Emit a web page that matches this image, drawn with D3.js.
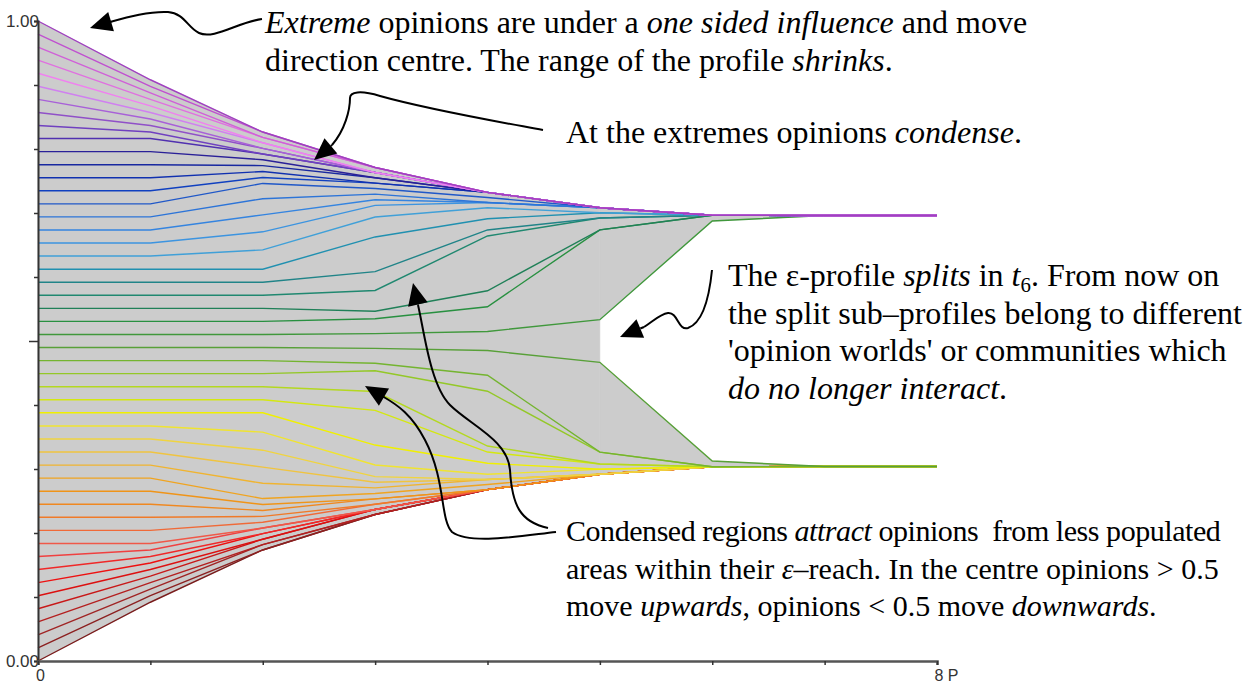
<!DOCTYPE html>
<html>
<head>
<meta charset="utf-8">
<script src="https://cdn.jsdelivr.net/npm/d3@7"></script>
<style>
  html, body { margin: 0; padding: 0; background: #fff; }
  svg { display: block; }
</style>
</head>
<body>
<div id="chart"></div>
<script>
// periods 0..8
const periods = [0, 1, 2, 3, 4, 5, 6, 7, 8];

// opinion of each of the 50 agents per period, bottom (agent 0) to top (agent 49)
const opinions = [
  [0.0000, 0.0918, 0.1735, 0.2289, 0.2677, 0.2919, 0.3035, 0.3039, 0.3039],
  [0.0204, 0.1020, 0.1735, 0.2289, 0.2677, 0.2919, 0.3035, 0.3039, 0.3039],
  [0.0408, 0.1122, 0.1818, 0.2289, 0.2677, 0.2919, 0.3035, 0.3039, 0.3039],
  [0.0612, 0.1224, 0.1818, 0.2289, 0.2677, 0.2919, 0.3035, 0.3039, 0.3039],
  [0.0816, 0.1327, 0.1903, 0.2368, 0.2677, 0.2919, 0.3035, 0.3039, 0.3039],
  [0.1020, 0.1429, 0.1903, 0.2368, 0.2677, 0.2919, 0.3035, 0.3039, 0.3039],
  [0.1224, 0.1531, 0.1990, 0.2368, 0.2677, 0.2919, 0.3035, 0.3039, 0.3039],
  [0.1429, 0.1633, 0.1990, 0.2368, 0.2677, 0.2919, 0.3035, 0.3039, 0.3039],
  [0.1633, 0.1735, 0.2078, 0.2368, 0.2677, 0.2919, 0.3035, 0.3039, 0.3039],
  [0.1837, 0.1837, 0.2078, 0.2368, 0.2677, 0.2919, 0.3035, 0.3039, 0.3039],
  [0.2041, 0.2041, 0.2168, 0.2450, 0.2677, 0.2919, 0.3035, 0.3039, 0.3039],
  [0.2245, 0.2245, 0.2259, 0.2450, 0.2677, 0.2919, 0.3035, 0.3039, 0.3039],
  [0.2449, 0.2449, 0.2352, 0.2533, 0.2677, 0.2919, 0.3035, 0.3039, 0.3039],
  [0.2653, 0.2653, 0.2445, 0.2533, 0.2677, 0.2919, 0.3035, 0.3039, 0.3039],
  [0.2857, 0.2857, 0.2538, 0.2618, 0.2758, 0.2919, 0.3035, 0.3039, 0.3039],
  [0.3061, 0.3061, 0.2777, 0.2705, 0.2837, 0.2919, 0.3035, 0.3039, 0.3039],
  [0.3265, 0.3265, 0.3029, 0.2793, 0.2837, 0.2919, 0.3035, 0.3039, 0.3039],
  [0.3469, 0.3469, 0.3294, 0.2881, 0.2837, 0.2919, 0.3035, 0.3039, 0.3039],
  [0.3673, 0.3673, 0.3577, 0.3062, 0.2918, 0.2996, 0.3035, 0.3039, 0.3039],
  [0.3878, 0.3878, 0.3878, 0.3374, 0.3090, 0.2996, 0.3035, 0.3039, 0.3039],
  [0.4082, 0.4082, 0.4082, 0.3916, 0.3265, 0.3079, 0.3035, 0.3039, 0.3039],
  [0.4286, 0.4286, 0.4286, 0.4211, 0.3359, 0.3079, 0.3035, 0.3039, 0.3039],
  [0.4490, 0.4490, 0.4490, 0.4535, 0.4215, 0.3263, 0.3035, 0.3039, 0.3039],
  [0.4694, 0.4694, 0.4694, 0.4653, 0.4465, 0.3263, 0.3035, 0.3039, 0.3039],
  [0.4898, 0.4898, 0.4898, 0.4884, 0.4851, 0.4667, 0.3124, 0.3039, 0.3039],
  [0.5102, 0.5102, 0.5102, 0.5116, 0.5149, 0.5333, 0.6876, 0.6961, 0.6961],
  [0.5306, 0.5306, 0.5306, 0.5347, 0.5535, 0.6737, 0.6965, 0.6961, 0.6961],
  [0.5510, 0.5510, 0.5510, 0.5465, 0.5785, 0.6737, 0.6965, 0.6961, 0.6961],
  [0.5714, 0.5714, 0.5714, 0.5789, 0.6641, 0.6921, 0.6965, 0.6961, 0.6961],
  [0.5918, 0.5918, 0.5918, 0.6084, 0.6735, 0.6921, 0.6965, 0.6961, 0.6961],
  [0.6122, 0.6122, 0.6122, 0.6626, 0.6910, 0.7004, 0.6965, 0.6961, 0.6961],
  [0.6327, 0.6327, 0.6423, 0.6938, 0.7082, 0.7004, 0.6965, 0.6961, 0.6961],
  [0.6531, 0.6531, 0.6706, 0.7119, 0.7163, 0.7081, 0.6965, 0.6961, 0.6961],
  [0.6735, 0.6735, 0.6971, 0.7207, 0.7163, 0.7081, 0.6965, 0.6961, 0.6961],
  [0.6939, 0.6939, 0.7223, 0.7295, 0.7163, 0.7081, 0.6965, 0.6961, 0.6961],
  [0.7143, 0.7143, 0.7462, 0.7382, 0.7242, 0.7081, 0.6965, 0.6961, 0.6961],
  [0.7347, 0.7347, 0.7555, 0.7467, 0.7323, 0.7081, 0.6965, 0.6961, 0.6961],
  [0.7551, 0.7551, 0.7648, 0.7467, 0.7323, 0.7081, 0.6965, 0.6961, 0.6961],
  [0.7755, 0.7755, 0.7741, 0.7550, 0.7323, 0.7081, 0.6965, 0.6961, 0.6961],
  [0.7959, 0.7959, 0.7832, 0.7550, 0.7323, 0.7081, 0.6965, 0.6961, 0.6961],
  [0.8163, 0.8163, 0.7922, 0.7632, 0.7323, 0.7081, 0.6965, 0.6961, 0.6961],
  [0.8367, 0.8265, 0.7922, 0.7632, 0.7323, 0.7081, 0.6965, 0.6961, 0.6961],
  [0.8571, 0.8367, 0.8010, 0.7632, 0.7323, 0.7081, 0.6965, 0.6961, 0.6961],
  [0.8776, 0.8469, 0.8010, 0.7632, 0.7323, 0.7081, 0.6965, 0.6961, 0.6961],
  [0.8980, 0.8571, 0.8097, 0.7632, 0.7323, 0.7081, 0.6965, 0.6961, 0.6961],
  [0.9184, 0.8673, 0.8097, 0.7632, 0.7323, 0.7081, 0.6965, 0.6961, 0.6961],
  [0.9388, 0.8776, 0.8182, 0.7711, 0.7323, 0.7081, 0.6965, 0.6961, 0.6961],
  [0.9592, 0.8878, 0.8182, 0.7711, 0.7323, 0.7081, 0.6965, 0.6961, 0.6961],
  [0.9796, 0.8980, 0.8265, 0.7711, 0.7323, 0.7081, 0.6965, 0.6961, 0.6961],
  [1.0000, 0.9082, 0.8265, 0.7711, 0.7323, 0.7081, 0.6965, 0.6961, 0.6961]
];

// line colour of each agent, same order
const agentColors = [
  "#7a1c1c", "#8c2020", "#a02424", "#b42020", "#c81818", "#dc1010", "#ee1010", "#f02828", "#f04040", "#f05848",
  "#f06a38", "#f07a28", "#f08820", "#f09418", "#f0a420", "#f0b430", "#f0c440", "#f0d440", "#f0e430", "#f0f000",
  "#d4e810", "#b4d820", "#94c828", "#74b430", "#58a038", "#40983c", "#289040", "#208058", "#208870", "#208488",
  "#2090b0", "#40a0d8", "#3c94e0", "#3484e0", "#2c74d8", "#2058c8", "#1040c0", "#1030b0", "#1828a0", "#2a2098",
  "#5030b0", "#7040c0", "#9050c8", "#a860d8", "#d080f0", "#f080f0", "#e070e0", "#d060d8", "#c050d0", "#a040c0"
];

// the profile splits into two groups after period 5
const splitPeriod = 5;
const lowerGroup = d3.range(0, 25);
const upperGroup = d3.range(25, 50);

const yTicks = [0, 0.1, 0.2, 0.3, 0.4, 0.5, 0.6, 0.7, 0.8, 0.9, 1];
const xTicks = [0, 1, 2, 3, 4, 5, 6, 7, 8];

const width = 1248;
const height = 688;
const margin = { top: 21, right: 311, bottom: 27, left: 38 };

const x = d3.scaleLinear().domain([0, 8]).range([margin.left, width - margin.right]);
const y = d3.scaleLinear().domain([0, 1]).range([height - margin.bottom, margin.top]);

const svg = d3.create("svg")
  .attr("width", width)
  .attr("height", height)
  .attr("viewBox", [0, 0, width, height]);

svg.append("rect").attr("width", width).attr("height", height).attr("fill", "#fff");

// grey profile area: one band until the split, two bands after it
function band(group, from, to) {
  return periods.filter(p => p >= from && p <= to).map(p => ({
    p,
    lo: d3.min(group, i => opinions[i][p]),
    hi: d3.max(group, i => opinions[i][p])
  }));
}

const area = d3.area()
  .x(d => x(d.p))
  .y0(d => y(d.lo))
  .y1(d => y(d.hi));

const bands = [
  band(d3.range(50), 0, splitPeriod),
  band(lowerGroup, splitPeriod, 8),
  band(upperGroup, splitPeriod, 8)
];

svg.append("g")
  .selectAll("path")
  .data(bands)
  .join("path")
  .attr("d", area)
  .attr("fill", "#cccccc")
  .attr("stroke", "#cccccc")
  .attr("stroke-width", 0.5);

// trajectories
const line = d3.line()
  .x((d, i) => x(periods[i]))
  .y(d => y(d));

svg.append("g")
  .attr("fill", "none")
  .selectAll("path")
  .data(opinions)
  .join("path")
  .attr("d", line)
  .attr("stroke", (d, i) => agentColors[i])
  .attr("stroke-width", 1.4);

// axes
const yAxis = d3.axisLeft(y)
  .tickValues(yTicks)
  .tickSizeOuter(0)
  .tickSize(4)
  .tickFormat(d => d === 0 || d === 1 ? d3.format(".2f")(d) : "");

const gy = svg.append("g")
  .attr("transform", `translate(${margin.left},0)`)
  .call(yAxis);

gy.selectAll(".tick line")
  .attr("x2", d => d === 0.5 ? -9 : -4)
  .attr("stroke", "#333")
  .attr("stroke-width", 1.5);
gy.select(".domain").attr("stroke", "#333").attr("stroke-width", 2);
gy.selectAll(".tick text")
  .attr("x", 1)
  .style("font-family", "'Liberation Sans', Arial, sans-serif")
  .style("font-size", "17px")
  .attr("fill", "#333");

const xAxis = d3.axisBottom(x)
  .tickValues(xTicks)
  .tickSizeOuter(0)
  .tickSize(4)
  .tickFormat(d => d === 0 ? "0" : d === 8 ? "8 P" : "");

const gx = svg.append("g")
  .attr("transform", `translate(0,${height - margin.bottom})`)
  .call(xAxis);

gx.select(".domain").attr("stroke", "#555").attr("stroke-width", 2.5);
gx.selectAll(".tick line").attr("stroke", "#333").attr("stroke-width", 1.5);
gx.selectAll(".tick text")
  .attr("y", 9)
  .style("font-family", "'Liberation Sans', Arial, sans-serif")
  .style("font-size", "16px")
  .attr("fill", "#333")
  .attr("text-anchor", d => d === 8 ? "start" : "middle")
  .attr("dx", d => d === 8 ? -3 : 2);

// annotations
const notes = [
  { x: 265, y: 33, size: 32, lines: [
    [["Extreme", true], [" opinions are under a ", false], ["one sided influence", true], [" and move", false]],
    [["direction centre. The range of the profile ", false], ["shrinks", true], [".", false]]
  ]},
  { x: 566, y: 143, size: 32, lines: [
    [["At the extremes opinions ", false], ["condense", true], [".", false]]
  ]},
  { x: 728, y: 286, size: 32, lines: [
    [["The \u03b5-profile ", false], ["splits", true], [" in ", false], ["t", true], ["6", false, true], [". From now on", false]],
    [["the split sub\u2013profiles belong to different", false]],
    [["'opinion worlds' or communities which", false]],
    [["do no longer interact", true], [".", false]]
  ]},
  { x: 566, y: 541, size: 30, tight: [-0.45], lines: [
    [["Condensed regions ", false], ["attract", true], [" opinions  from less populated", false]],
    [["areas within their ", false], ["\u03b5", true], ["\u2013reach. In the centre opinions > 0.5", false]],
    [["move ", false], ["upwards", true], [", opinions < 0.5 move ", false], ["downwards", true], [".", false]]
  ]}
];

const lineHeight = 37.5;
const noteG = svg.append("g")
  .attr("font-family", "'Liberation Serif', 'Times New Roman', serif")
  .attr("fill", "#000");

notes.forEach(note => {
  note.lines.forEach((segs, li) => {
    const t = noteG.append("text")
      .attr("x", note.x)
      .attr("y", note.y + li * lineHeight)
      .attr("font-size", note.size)
      .style("white-space", "pre");
    if (note.tight && note.tight[li]) t.attr("letter-spacing", note.tight[li]);
    let wasSub = false;
    segs.forEach(([str, italic, sub]) => {
      const s = t.append("tspan").text(str);
      if (italic) s.attr("font-style", "italic");
      if (sub) s.attr("font-size", note.size * 0.65).attr("dy", 6);
      else if (wasSub) s.attr("dy", -6);
      wasSub = !!sub;
    });
  });
});

// arrows
const arrows = [
  { path: "M262,19 C238,22 214,40 199,33 C188,28 184,13 168,12 C150,11 128,17 110,22", tip: [90, 28] },
  { path: "M543,130 C500,122 430,110 380,96 C360,90 350,92 350,98 C350,110 345,130 332,145", tip: [314, 160] },
  { path: "M712,270 C710,290 705,322 688,328 C678,331 678,312 668,313 C660,314 652,322 644,327", tip: [620, 337] },
  { path: "M556,532 C520,536 470,545 452,532 C440,520 446,480 425,440 C412,415 398,405 382,396", tip: [365, 386] },
  { path: "M548,528 C520,522 512,505 510,470 C508,440 470,425 450,405 C430,385 424,330 418,305", tip: [413, 283] }
];

const ag = svg.append("g");
arrows.forEach(a => {
  const p = ag.append("path")
    .attr("d", a.path)
    .attr("fill", "none")
    .attr("stroke", "#000")
    .attr("stroke-width", 2);
  const len = p.node().getTotalLength();
  const end = p.node().getPointAtLength(len);
  const ang = Math.atan2(a.tip[1] - end.y, a.tip[0] - end.x);
  const L = 22, W = 10;
  const bx = a.tip[0] - L * Math.cos(ang), by = a.tip[1] - L * Math.sin(ang);
  const nx = -Math.sin(ang) * W, ny = Math.cos(ang) * W;
  ag.append("path")
    .attr("d", `M${a.tip[0]},${a.tip[1]}L${bx + nx},${by + ny}L${bx - nx},${by - ny}Z`)
    .attr("fill", "#000");
  ag.append("line")
    .attr("x1", end.x).attr("y1", end.y)
    .attr("x2", bx).attr("y2", by)
    .attr("stroke", "#000").attr("stroke-width", 2);
});

document.getElementById("chart").appendChild(svg.node());
</script>
</body>
</html>
